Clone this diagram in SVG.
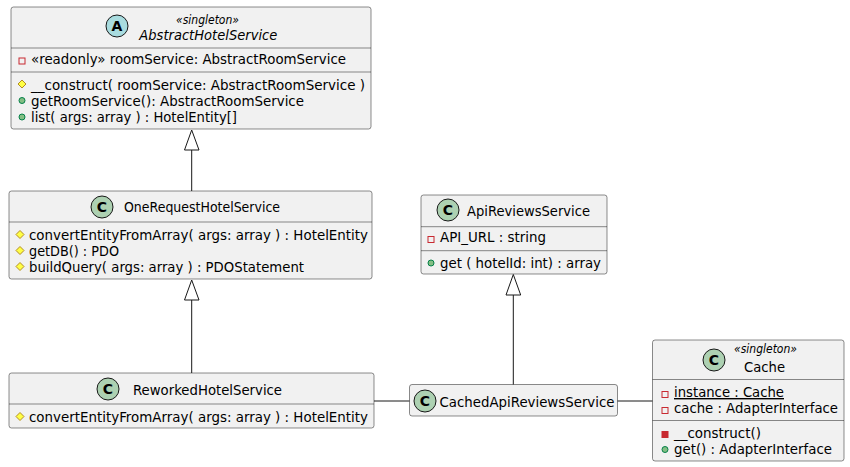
<svg xmlns="http://www.w3.org/2000/svg" width="850" height="467" viewBox="0 0 850 467">
<style>
text{font-family:"DejaVu Sans","Liberation Sans",sans-serif;font-size:14px;fill:#000}
.box{fill:#F1F1F1;stroke:#181818;stroke-width:0.5}
.sep{stroke:#181818;stroke-width:0.5}
.st{font-size:12px;font-style:italic}
.it{font-style:italic}
.ic{stroke:#181818;stroke-width:1}
.icC{fill:#ADD1B2}
.icA{fill:#A9DCDF}
.il{font-weight:bold;font-size:14px;text-anchor:middle}
.priv{fill:none;stroke:#C82930;stroke-width:1}
.privm{fill:#C82930;stroke:#C82930;stroke-width:1}
.pub{fill:#84BE84;stroke:#038048;stroke-width:1}
.prot{fill:#FFFF44;stroke:#B38D22;stroke-width:1}
.edge{stroke:#181818;stroke-width:1;fill:none}
.head{fill:none;stroke:#181818;stroke-width:1}
</style>
<g id="AbstractHotelService">
<rect class="box" x="11" y="7" width="360" height="122" rx="2.5"/>
<circle class="ic icA" cx="117" cy="26" r="11"/>
<text class="il" x="117" y="31">A</text>
<text class="st" x="176" y="24" textLength="63" lengthAdjust="spacingAndGlyphs">«singleton»</text>
<text class="it" x="139.3" y="40" textLength="138" lengthAdjust="spacingAndGlyphs">AbstractHotelService</text>
<line class="sep" x1="11" y1="48" x2="371" y2="48"/>
<rect class="priv" x="19" y="58" width="6" height="6"/>
<text x="31" y="64" textLength="315" lengthAdjust="spacingAndGlyphs">«readonly» roomService: AbstractRoomService</text>
<line class="sep" x1="11" y1="72" x2="371" y2="72"/>
<polygon class="prot" points="22,80 26,84 22,88 18,84"/>
<text x="31" y="89.5" textLength="334" lengthAdjust="spacingAndGlyphs">__construct( roomService: AbstractRoomService )</text>
<circle class="pub" cx="22" cy="100.5" r="3"/>
<text x="31" y="105.5" textLength="273" lengthAdjust="spacingAndGlyphs">getRoomService(): AbstractRoomService</text>
<circle class="pub" cx="22" cy="117" r="3"/>
<text x="31" y="122" textLength="206" lengthAdjust="spacingAndGlyphs">list( args: array ) : HotelEntity[]</text>
</g>
<g id="OneRequestHotelService">
<rect class="box" x="9" y="191" width="363" height="88" rx="2.5"/>
<circle class="ic icC" cx="102" cy="207" r="11"/>
<text class="il" x="102" y="212">C</text>
<text x="124" y="212" textLength="156" lengthAdjust="spacingAndGlyphs">OneRequestHotelService</text>
<line class="sep" x1="9" y1="222" x2="372" y2="222"/>
<polygon class="prot" points="20,230.5 24,234.5 20,238.5 16,234.5"/>
<text x="29" y="239.5" textLength="339" lengthAdjust="spacingAndGlyphs">convertEntityFromArray( args: array ) : HotelEntity</text>
<polygon class="prot" points="20,246.5 24,250.5 20,254.5 16,250.5"/>
<text x="29" y="255.5" textLength="90" lengthAdjust="spacingAndGlyphs">getDB() : PDO</text>
<polygon class="prot" points="20,262.5 24,266.5 20,270.5 16,266.5"/>
<text x="29" y="271.5" textLength="275" lengthAdjust="spacingAndGlyphs">buildQuery( args: array ) : PDOStatement</text>
</g>
<g id="ReworkedHotelService">
<rect class="box" x="9" y="373" width="365" height="55" rx="2.5"/>
<circle class="ic icC" cx="108" cy="389" r="11"/>
<text class="il" x="108" y="394">C</text>
<text x="133" y="395" textLength="149" lengthAdjust="spacingAndGlyphs">ReworkedHotelService</text>
<line class="sep" x1="9" y1="404" x2="374" y2="404"/>
<polygon class="prot" points="20,412.5 24,416.5 20,420.5 16,416.5"/>
<text x="29" y="421.5" textLength="339" lengthAdjust="spacingAndGlyphs">convertEntityFromArray( args: array ) : HotelEntity</text>
</g>
<g id="ApiReviewsService">
<rect class="box" x="421" y="195" width="186" height="79" rx="2.5"/>
<circle class="ic icC" cx="448" cy="210" r="11"/>
<text class="il" x="448" y="215">C</text>
<text x="467" y="215.5" textLength="123" lengthAdjust="spacingAndGlyphs">ApiReviewsService</text>
<line class="sep" x1="421" y1="226.7" x2="607" y2="226.7"/>
<rect class="priv" x="428" y="236.5" width="6" height="6"/>
<text x="440" y="242" textLength="106" lengthAdjust="spacingAndGlyphs">API_URL : string</text>
<line class="sep" x1="421" y1="250.7" x2="607" y2="250.7"/>
<circle class="pub" cx="431" cy="263" r="3"/>
<text x="440" y="267.5" textLength="161" lengthAdjust="spacingAndGlyphs">get ( hotelId: int) : array</text>
</g>
<g id="CachedApiReviewsService">
<rect class="box" x="409.5" y="384.5" width="208" height="31.5" rx="2.5"/>
<circle class="ic icC" cx="425" cy="401" r="11"/>
<text class="il" x="425" y="406">C</text>
<text x="439.5" y="406.5" textLength="175" lengthAdjust="spacingAndGlyphs">CachedApiReviewsService</text>
</g>
<g id="Cache">
<rect class="box" x="652.5" y="340" width="191.5" height="121" rx="2.5"/>
<circle class="ic icC" cx="714" cy="360" r="11"/>
<text class="il" x="714" y="365">C</text>
<text class="st" x="734" y="353" textLength="63" lengthAdjust="spacingAndGlyphs">«singleton»</text>
<text x="744" y="372" textLength="41" lengthAdjust="spacingAndGlyphs">Cache</text>
<line class="sep" x1="652.5" y1="379.5" x2="844" y2="379.5"/>
<rect class="priv" x="662" y="391.5" width="6" height="6"/>
<text x="674" y="397" text-decoration="underline" textLength="110" lengthAdjust="spacingAndGlyphs">instance : Cache</text>
<rect class="priv" x="662" y="407.5" width="6" height="6"/>
<text x="674" y="412.5" textLength="164" lengthAdjust="spacingAndGlyphs">cache : AdapterInterface</text>
<line class="sep" x1="652.5" y1="420.5" x2="844" y2="420.5"/>
<rect class="privm" x="662" y="431.5" width="6" height="6"/>
<text x="674" y="437.5" textLength="87" lengthAdjust="spacingAndGlyphs">__construct()</text>
<circle class="pub" cx="665" cy="449.5" r="3"/>
<text x="674" y="454" textLength="158" lengthAdjust="spacingAndGlyphs">get() : AdapterInterface</text>
</g>
<g id="connectors">
<line class="edge" x1="191.7" y1="150" x2="191.7" y2="191"/>
<polygon class="head" points="191.7,130 184.5,150 199,150"/>
<line class="edge" x1="191.7" y1="300" x2="191.7" y2="373"/>
<polygon class="head" points="191.7,280 184.5,300 199,300"/>
<line class="edge" x1="513.3" y1="295" x2="513.3" y2="384.5"/>
<polygon class="head" points="513.3,274.5 506,295 520.7,295"/>
<line class="edge" x1="374" y1="401" x2="409.5" y2="401"/>
<line class="edge" x1="617.5" y1="401" x2="652.5" y2="401"/>
</g>
</svg>
